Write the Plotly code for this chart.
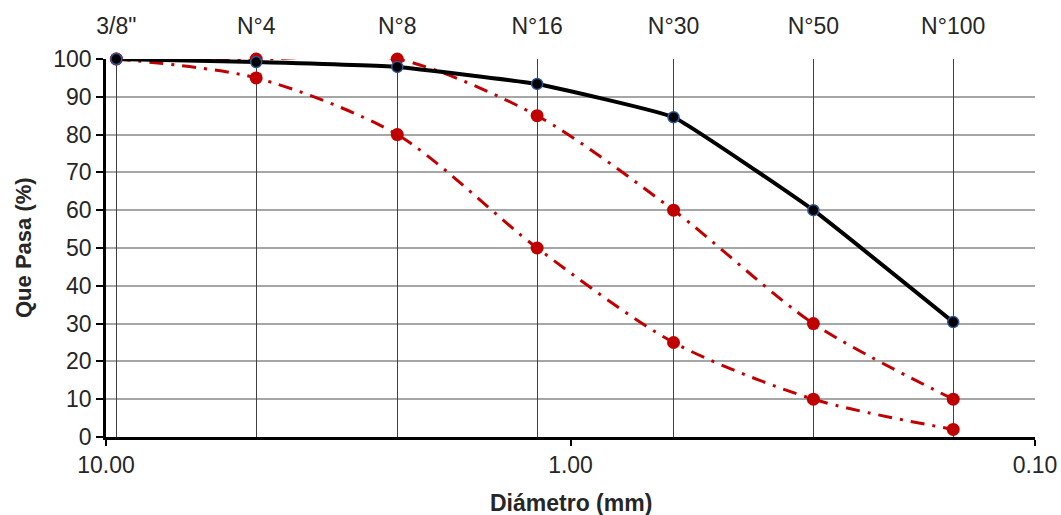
import plotly.graph_objects as go

sieve_names = ['3/8"', "N°4", "N°8", "N°16", "N°30", "N°50", "N°100"]
sieve_mm = [9.5, 4.75, 2.36, 1.18, 0.6, 0.3, 0.15]
muestra = [100, 99.2, 97.9, 93.4, 84.6, 60, 30.4]
limite_sup = [100, 100, 100, 85, 60, 30, 10]
limite_inf = [100, 95, 80, 50, 25, 10, 2]

x_ticks = [10, 1, 0.1]
x_ticktext = ["10.00", "1.00", "0.10"]
y_ticks = list(range(0, 101, 10))

red = "#C00000"
font = "Liberation Sans, Arial, sans-serif"
txt = "#262626"

fig = go.Figure()
for vals in (limite_sup, limite_inf):
    fig.add_trace(go.Scatter(
        x=sieve_mm, y=vals, mode="lines+markers",
        line=dict(color=red, width=3, dash="14px,8px,3px,8px", shape="spline", smoothing=0.8),
        marker=dict(color=red, size=13, line=dict(width=0)),
        showlegend=False, cliponaxis=False))
fig.add_trace(go.Scatter(
    x=sieve_mm, y=muestra, mode="lines+markers",
    line=dict(color="black", width=4, shape="spline", smoothing=0.3),
    marker=dict(color="black", size=11, line=dict(color="#2F5597", width=1.5)),
    showlegend=False, cliponaxis=False))
# invisible trace on top axis (sieve names)
fig.add_trace(go.Scatter(x=sieve_mm, y=muestra, xaxis="x2", mode="lines",
                         line=dict(width=0), hoverinfo="skip", showlegend=False, opacity=0))

fig.update_layout(
    width=1061, height=515,
    margin=dict(l=106, r=26, t=59, b=78),
    paper_bgcolor="white", plot_bgcolor="white",
    font=dict(family=font, size=24, color=txt),
    xaxis=dict(type="log", range=[1, -1], tickvals=x_ticks, ticktext=x_ticktext,
               showgrid=False, zeroline=False, showline=True, linecolor="black", linewidth=2.5,
               ticks="outside", ticklen=6, tickwidth=2, tickcolor="black", automargin=False,
               tickfont=dict(size=23)),
    xaxis2=dict(type="log", range=[1, -1], overlaying="x", side="top",
                tickvals=sieve_mm, ticktext=sieve_names, showgrid=True, gridcolor="#404040",
                gridwidth=1.2, showline=False, ticks="", zeroline=False, automargin=False,
                ticklabelstandoff=19, tickfont=dict(size=23), layer="below traces"),
    yaxis=dict(range=[0, 100], tickvals=y_ticks, showgrid=True, gridcolor="#A6A6A6", gridwidth=2,
               zeroline=False, showline=True, linecolor="black", linewidth=2.5,
               ticks="outside", ticklen=7, tickwidth=2, tickcolor="black", automargin=False,
               tickfont=dict(size=23)),
    annotations=[
        dict(text="<b>Diámetro (mm)</b>", xref="paper", yref="paper", x=0.5, y=0,
             yshift=-66, showarrow=False, font=dict(size=23, color=txt), yanchor="middle"),
        dict(text="<b>Que Pasa (%)</b>", xref="paper", yref="paper", x=0, y=0.5,
             xshift=-83, textangle=-90, showarrow=False, font=dict(size=22, color=txt),
             xanchor="center"),
    ],
)

fig.write_html("out.html", config={"displayModeBar": False},
               post_script="document.body.style.margin='0';document.body.style.overflow='hidden';")
